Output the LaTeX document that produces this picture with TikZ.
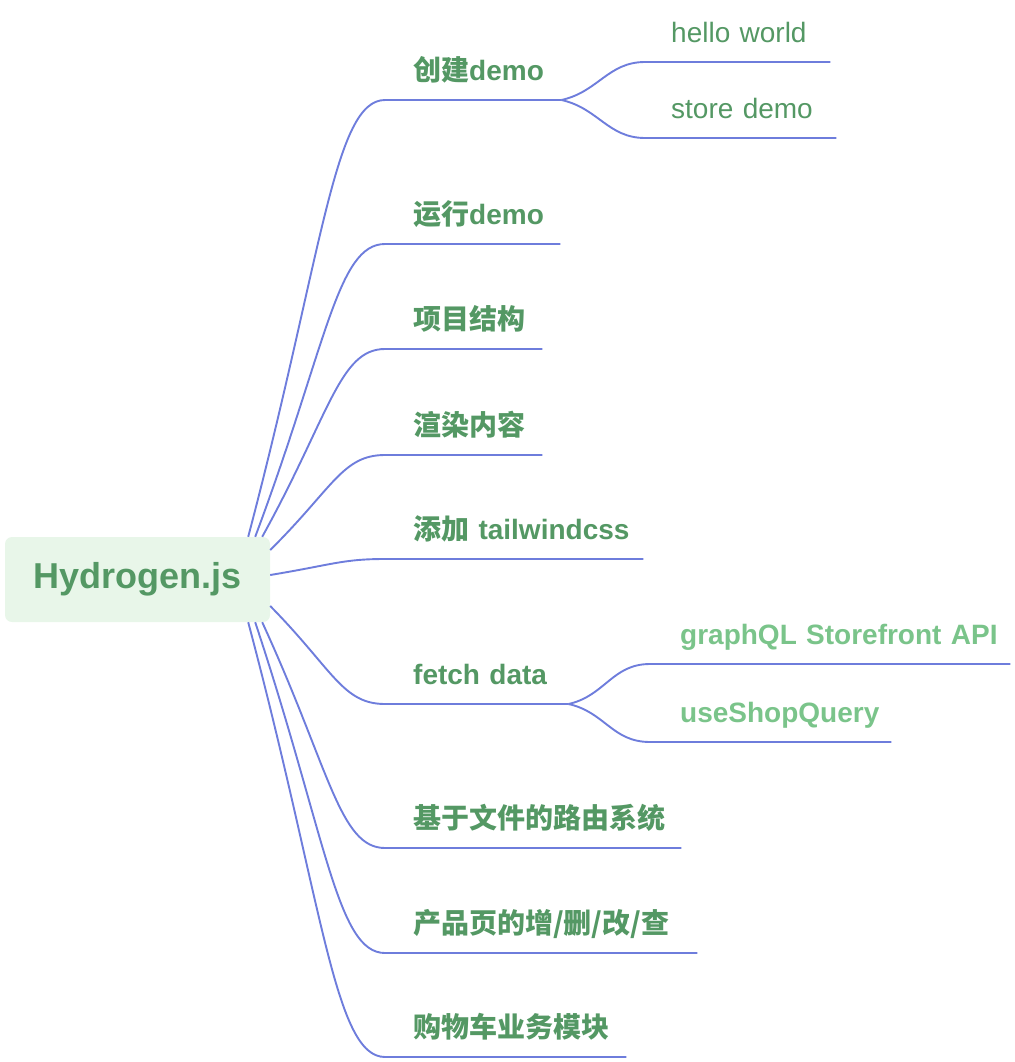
\documentclass[tikz,border=0pt]{standalone}
\usepackage{fontspec}
\setmainfont{Liberation Sans}
\newfontfamily\cjk{Noto Sans CJK SC}

\definecolor{linkblue}{RGB}{110,125,220}
\definecolor{topicgreen}{RGB}{84,152,100}
\definecolor{subgreen}{RGB}{122,196,138}
\definecolor{rootfill}{RGB}{232,246,233}

\tikzset{
  root/.style={fill=rootfill, rounded corners=7pt, minimum width=265pt, minimum height=85pt,
    inner sep=0pt, text=topicgreen, font=\fontsize{36}{42}\selectfont\bfseries},
  topic/.style={anchor=south west, inner sep=0pt, text depth=19pt, text=topicgreen,
    font=\fontsize{28}{34}\selectfont\bfseries},
  subtopic/.style={topic, font=\fontsize{28}{34}\selectfont},
  branch/.style={draw=linkblue, line width=1.9pt}
}

\begin{document}
\begin{tikzpicture}[x=1pt, y=-1pt]
  \useasboundingbox (0,0) rectangle (1014,1062);

  % root
  \node[root] (root) at (137.5,579.5) {\raisebox{-1.5pt}{Hydrogen.js}};

  % main topics
  \node[topic, text width=176pt] (create) at (385,100) {\hspace*{28pt}{\cjk 创建}demo};
  \node[topic, text width=175pt] (run) at (385,244) {\hspace*{28pt}{\cjk 运行}demo};
  \node[topic, text width=157pt] (layout) at (385,349) {\hspace*{28pt}{\cjk 项目结构}};
  \node[topic, text width=157pt] (render) at (385,455) {\hspace*{28pt}{\cjk 渲染内容}};
  \node[topic, text width=258pt] (tailwind) at (385,559) {\hspace*{28pt}{\cjk 添加} tailwindcss};
  \node[topic, text width=183pt] (fetch) at (385,704) {\hspace*{28pt}fetch data};
  \node[topic, text width=296pt] (routes) at (385,848) {\hspace*{28pt}{\cjk 基于文件的路由系统}};
  \node[topic, text width=312pt] (crud) at (385,953) {\hspace*{28pt}{\cjk 产品页的增/删/改/查}};
  \node[topic, text width=241pt] (cart) at (385,1057) {\hspace*{28pt}{\cjk 购物车业务模块}};

  % sub topics
  \node[subtopic, text width=185pt] (hello) at (645,62) {\hspace*{26pt}hello world};
  \node[subtopic, text width=191pt] (store) at (645,138) {\hspace*{26pt}store demo};
  \node[topic, text=subgreen, text width=360pt] (gql) at (650,664) {\hspace*{30pt}graphQL Storefront API};
  \node[topic, text=subgreen, text width=241pt] (shopq) at (650,742) {\hspace*{30pt}useShopQuery};

  % where the branches leave the root
  \coordinate (s1) at ([xshift=-22pt]root.north east);
  \coordinate (s2) at ([xshift=-15pt]root.north east);
  \coordinate (s3) at ([xshift=-8pt]root.north east);
  \coordinate (s4) at ([yshift=29.5pt]root.east);
  \coordinate (s5) at ([yshift=4.5pt]root.east);
  \coordinate (s6) at ([yshift=-26.5pt]root.east);
  \coordinate (s7) at ([xshift=-8pt]root.south east);
  \coordinate (s8) at ([xshift=-15pt]root.south east);
  \coordinate (s9) at ([xshift=-22pt]root.south east);

  % branches to main topics
  \draw[branch] (s1) .. controls (323,253) and (334,100) .. (create.south west) -- (create.south east);
  \draw[branch] (s2) .. controls (326.5,346.5) and (337,244) .. (run.south west) -- (run.south east);
  \draw[branch] (s3) .. controls (329.7,414.8) and (339.5,349) .. (layout.south west) -- (layout.south east);
  \draw[branch] (s4) .. controls (333,488) and (342.5,455) .. (render.south west) -- (render.south east);
  \draw[branch] (s5) .. controls (333,564.6) and (342.5,559) .. (tailwind.south west) -- (tailwind.south east);
  \draw[branch] (s6) .. controls (333,669.7) and (342.5,704) .. (fetch.south west) -- (fetch.south east);
  \draw[branch] (s7) .. controls (329.7,768.9) and (339.5,848) .. (routes.south west) -- (routes.south east);
  \draw[branch] (s8) .. controls (326.5,837.2) and (337,953) .. (crud.south west) -- (crud.south east);
  \draw[branch] (s9) .. controls (323.4,904.8) and (334.3,1057) .. (cart.south west) -- (cart.south east);

  % branches to sub topics
  \draw[branch] (create.south east) .. controls (598,92) and (608,62) .. (hello.south west) -- (hello.south east);
  \draw[branch] (create.south east) .. controls (598,108) and (608,138) .. (store.south west) -- (store.south east);
  \draw[branch] (fetch.south east) .. controls (605,696) and (612,664) .. (gql.south west) -- (gql.south east);
  \draw[branch] (fetch.south east) .. controls (605,712) and (612,742) .. (shopq.south west) -- (shopq.south east);
\end{tikzpicture}
\end{document}
